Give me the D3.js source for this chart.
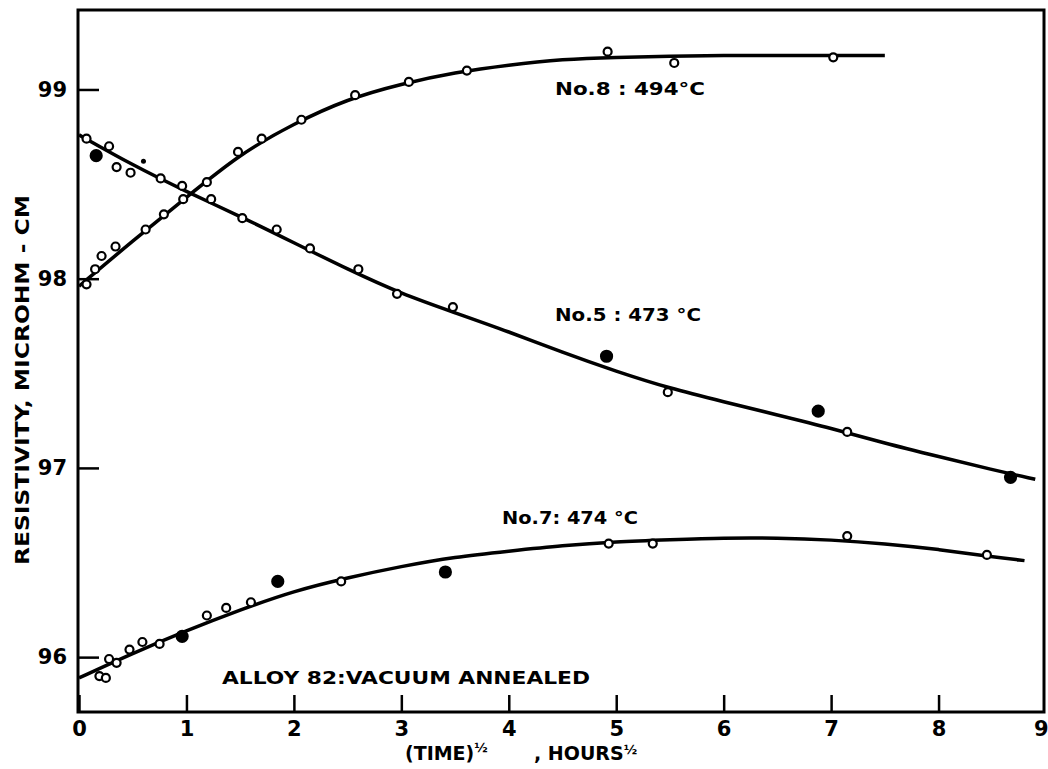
<!DOCTYPE html>
<html>
<head>
<meta charset="utf-8">
<script src="https://cdn.jsdelivr.net/npm/d3@7"></script>
<style>
  body { margin: 0; background: #fff; }
  text { font-family: "DejaVu Sans", sans-serif; font-weight: bold; fill: #000; }
</style>
</head>
<body>
<div class="chart"></div>
<script>
var width = 1048
var height = 769

// measured points, (time)^1/2 in hours^1/2 vs resistivity
var no8X = [0.07, 0.15, 0.21, 0.34, 0.62, 0.79, 0.97, 1.19, 1.48, 1.70, 2.07, 2.57, 3.07, 3.61, 4.92, 5.54, 7.02]
var no8Y = [97.97, 98.05, 98.12, 98.17, 98.26, 98.34, 98.42, 98.51, 98.67, 98.74, 98.84, 98.97, 99.04, 99.10, 99.20, 99.14, 99.17]

var no5X = [0.07, 0.16, 0.28, 0.35, 0.48, 0.76, 0.96, 1.23, 1.52, 1.84, 2.15, 2.60, 2.96, 3.48, 4.91, 5.48, 6.88, 7.15, 8.67]
var no5Y = [98.74, 98.65, 98.70, 98.59, 98.56, 98.53, 98.49, 98.42, 98.32, 98.26, 98.16, 98.05, 97.92, 97.85, 97.59, 97.40, 97.30, 97.19, 96.95]
var no5Filled = [1, 14, 16, 18]

var no7X = [0.19, 0.25, 0.28, 0.35, 0.47, 0.59, 0.75, 0.96, 1.19, 1.37, 1.60, 1.85, 2.44, 3.41, 4.93, 5.34, 7.15, 8.45]
var no7Y = [95.90, 95.89, 95.99, 95.97, 96.04, 96.08, 96.07, 96.11, 96.22, 96.26, 96.29, 96.40, 96.40, 96.45, 96.60, 96.60, 96.64, 96.54]
var no7Filled = [7, 11, 13]

// stray dot near the No.5 curve
var strayX = [0.60]
var strayY = [98.62]

// smooth curves drawn through the points
var curveX = [0, 0.5, 1, 1.5, 2, 2.5, 3, 3.5, 4, 4.5, 5, 5.5, 6, 6.5, 7, 7.5, 8, 8.5]
var curve8 = [97.96, 98.20, 98.43, 98.66, 98.82, 98.95, 99.03, 99.09, 99.13, 99.16, 99.17, 99.175, 99.18, 99.18, 99.18, 99.18]
var curve5 = [98.76, 98.60, 98.46, 98.33, 98.19, 98.05, 97.92, 97.82, 97.72, 97.61, 97.51, 97.42, 97.35, 97.28, 97.21, 97.13, 97.06, 96.99]
var curve5End = [8.9, 96.94]
var curve7 = [95.89, 96.02, 96.14, 96.25, 96.35, 96.42, 96.48, 96.53, 96.56, 96.59, 96.61, 96.62, 96.63, 96.63, 96.62, 96.60, 96.57, 96.53]
var curve7End = [8.8, 96.51]

var xTicks = [0, 1, 2, 3, 4, 5, 6, 7, 8, 9]
var yTicks = [96, 97, 98, 99]

var svg = d3.select('.chart')
  .append('svg')
  .attr('width', width)
  .attr('height', height)

var x = d3.scaleLinear().domain([0, 9]).range([79, 1046])
var y = d3.scaleLinear().domain([95.71, 99.42]).range([712, 10])

// frame
svg.append('rect')
  .attr('x', 78).attr('y', 10)
  .attr('width', 966).attr('height', 702)
  .attr('fill', 'none')
  .attr('stroke', '#000')
  .attr('stroke-width', 3)

var xAxis = svg.append('g')
  .attr('transform', 'translate(0,712)')
  .call(d3.axisBottom(x).tickValues(xTicks).tickFormat(d3.format('d')).tickSize(-17).tickSizeOuter(0).tickPadding(9))
xAxis.select('.domain').remove()
xAxis.selectAll('line').attr('stroke-width', 2.5)
xAxis.selectAll('text')
  .attr('font-size', 21)
  .attr('font-family', '"DejaVu Sans", sans-serif')
  .attr('font-weight', 'bold')
// last label sits on the right edge
xAxis.selectAll('.tick').filter(function(d) { return d === 9 }).select('text')
  .attr('text-anchor', 'end').attr('x', 2)
xAxis.selectAll('.tick').filter(function(d) { return d === 9 }).select('line').remove()

var yAxis = svg.append('g')
  .attr('transform', 'translate(78,0)')
  .call(d3.axisLeft(y).tickValues(yTicks).tickFormat(d3.format('d')).tickSize(-21).tickSizeOuter(0).tickPadding(11))
yAxis.select('.domain').remove()
yAxis.selectAll('line').attr('stroke-width', 2.5)
yAxis.selectAll('text')
  .attr('font-size', 21)
  .attr('font-family', '"DejaVu Sans", sans-serif')
  .attr('font-weight', 'bold')

var line = d3.line()
  .x(function(d) { return x(d[0]) })
  .y(function(d) { return y(d[1]) })
  .curve(d3.curveBasis)

function pairs(xs, ys) {
  return ys.map(function(v, i) { return [xs[i], v] })
}

var c8 = pairs(curveX, curve8)
c8.push([7.5, 99.18])
var c5 = pairs(curveX, curve5)
c5.push(curve5End)
var c7 = pairs(curveX, curve7)
c7.push(curve7End)

svg.selectAll('path.fit')
  .data([c8, c5, c7])
  .enter().append('path')
  .attr('class', 'fit')
  .attr('d', line)
  .attr('fill', 'none')
  .attr('stroke', '#000')
  .attr('stroke-width', 3.5)

function drawPoints(xs, ys, filled, cls) {
  svg.selectAll('circle.' + cls)
    .data(pairs(xs, ys))
    .enter().append('circle')
    .attr('class', cls)
    .attr('cx', function(d) { return x(d[0]) })
    .attr('cy', function(d) { return y(d[1]) })
    .attr('r', function(d, i) { return filled.indexOf(i) >= 0 ? 5.5 : 4 })
    .attr('fill', function(d, i) { return filled.indexOf(i) >= 0 ? '#000' : '#fff' })
    .attr('stroke', '#000')
    .attr('stroke-width', 2.2)
}

drawPoints(no8X, no8Y, [], 'p8')
drawPoints(no5X, no5Y, no5Filled, 'p5')
drawPoints(no7X, no7Y, no7Filled, 'p7')

svg.selectAll('circle.stray')
  .data(pairs(strayX, strayY))
  .enter().append('circle')
  .attr('class', 'stray')
  .attr('cx', function(d) { return x(d[0]) })
  .attr('cy', function(d) { return y(d[1]) })
  .attr('r', 2.5)
  .attr('fill', '#000')

// labels
svg.append('text').attr('x', 555).attr('y', 95)
  .attr('font-size', 17).attr('textLength', 150).attr('lengthAdjust', 'spacingAndGlyphs')
  .text('No.8 : 494°C')
svg.append('text').attr('x', 555).attr('y', 321)
  .attr('font-size', 17).attr('textLength', 146).attr('lengthAdjust', 'spacingAndGlyphs')
  .text('No.5 : 473 °C')
svg.append('text').attr('x', 502).attr('y', 524)
  .attr('font-size', 17).attr('textLength', 136).attr('lengthAdjust', 'spacingAndGlyphs')
  .text('No.7: 474 °C')
svg.append('text').attr('x', 222).attr('y', 684)
  .attr('font-size', 18).attr('textLength', 368).attr('lengthAdjust', 'spacingAndGlyphs')
  .text('ALLOY 82:VACUUM ANNEALED')

svg.append('text')
  .attr('transform', 'translate(29,380) rotate(-90)')
  .attr('text-anchor', 'middle')
  .attr('font-size', 20).attr('textLength', 370).attr('lengthAdjust', 'spacingAndGlyphs')
  .text('RESISTIVITY, MICROHM - CM')

var xl = svg.append('text').attr('x', 405).attr('y', 760).attr('font-size', 19)
xl.append('tspan').text('(TIME)')
xl.append('tspan').attr('font-size', 13).attr('dy', -8).text('½')
var xl2 = svg.append('text').attr('x', 534).attr('y', 760).attr('font-size', 19)
xl2.append('tspan').text(', HOURS')
xl2.append('tspan').attr('font-size', 13).attr('dy', -6).text('½')
</script>
</body>
</html>
